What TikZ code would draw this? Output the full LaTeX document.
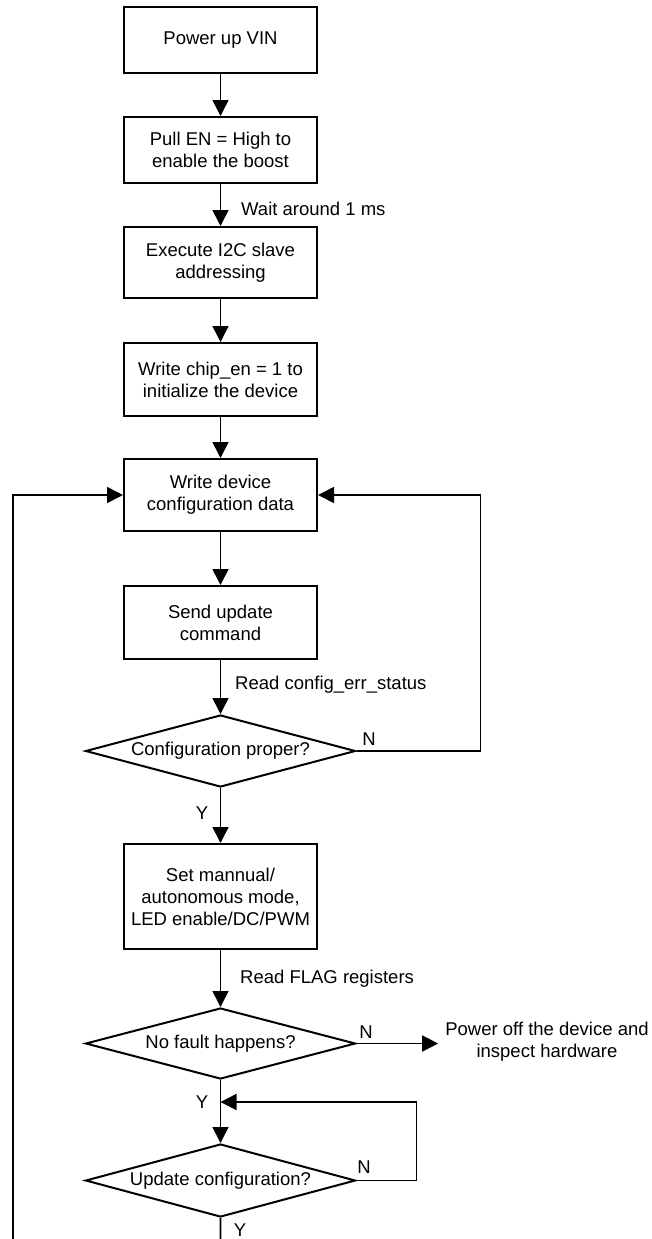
\documentclass[tikz,border=0pt]{standalone}
\usepackage{fontspec}
\setmainfont{Liberation Sans}
\usetikzlibrary{shapes.geometric,arrows.meta}
\begin{document}
\begin{tikzpicture}[x=1pt,y=-1pt,
  font=\fontsize{18.5}{22}\selectfont,
  procbox/.style={draw,line width=2pt,minimum width=193pt,align=center,inner sep=0pt},
  decbox/.style={draw,diamond,line width=2pt,minimum width=270pt,minimum height=72pt,shape aspect=3.75,inner sep=0pt,align=center},
  flow/.style={line width=1.6pt,-{Triangle[length=16pt,width=16pt]}},
  lbl/.style={inner sep=0pt}]
\useasboundingbox (0,0) rectangle (651,1239);
\clip (0,0) rectangle (651,1239);
\node[procbox,minimum height=66pt] (b1) at (220.5,40) {Power up VIN};
\node[procbox,minimum height=66pt] (b2) at (220.5,150) {Pull EN = High to\\enable the boost};
\node[procbox,minimum height=71pt] (b3) at (220.5,262.5) {Execute I2C slave\\addressing};
\node[procbox,minimum height=73pt] (b4) at (220.5,379.5) {Write chip\_en = 1 to\\initialize the device};
\node[procbox,minimum height=72pt] (b5) at (220.5,495) {Write device\\configuration data};
\node[procbox,minimum height=73pt] (b6) at (220.5,622.5) {Send update\\command};
\node[decbox] (d1) at (220.5,751) {Configuration proper?};
\node[procbox,minimum height=105pt] (b7) at (220.5,896.5) {Set mannual/\\autonomous mode,\\LED enable/DC/PWM};
\node[decbox,minimum height=71pt] (d2) at (220.5,1043.5) {No fault happens?};
\node[decbox,minimum height=73pt] (d3) at (220.5,1180.5) {Update configuration?};
\node[inner sep=7pt,align=center] (pw) at (547,1042) {Power off the device and\\inspect hardware};
\coordinate (j) at (220.5,1102);
\coordinate (lp) at (13,1257);

\node[lbl,anchor=west] (l1) at (241,209) {Wait around 1 ms};
\node[lbl,anchor=west] (l2) at (235,685) {Read config\_err\_status};
\node[lbl,anchor=west] (l3) at (240,979) {Read FLAG registers};
\node[lbl] (n1) at (369,739) {N};
\node[lbl] (y1) at (202,813) {Y};
\node[lbl] (n2) at (366,1032) {N};
\node[lbl] (y2) at (202,1102) {Y};
\node[lbl] (n3) at (364,1167) {N};
\node[lbl] (y3) at (240,1230) {Y};

\draw[flow] (b1) -- (b2);
\draw[flow] (b2) -- (b3);
\draw[flow] (b3) -- (b4);
\draw[flow] (b4) -- (b5);
\draw[flow] (b5) -- (b6);
\draw[flow] (b6) -- (d1);
\draw[flow] (d1) -- (b7);
\draw[flow] (b7) -- (d2);
\draw[flow] (d2) -- (d3);
\draw[flow] (d1.east) -- ++(124,0) |- (b5.east);
\draw[flow] (d2.east) -- (d2.east -| pw.west);
\draw[flow] (d3.east) -- ++(60,0) |- (j);
\draw[flow] (d3.south) -- ++(0,40) -- (lp) |- (b5.west);
\end{tikzpicture}
\end{document}
